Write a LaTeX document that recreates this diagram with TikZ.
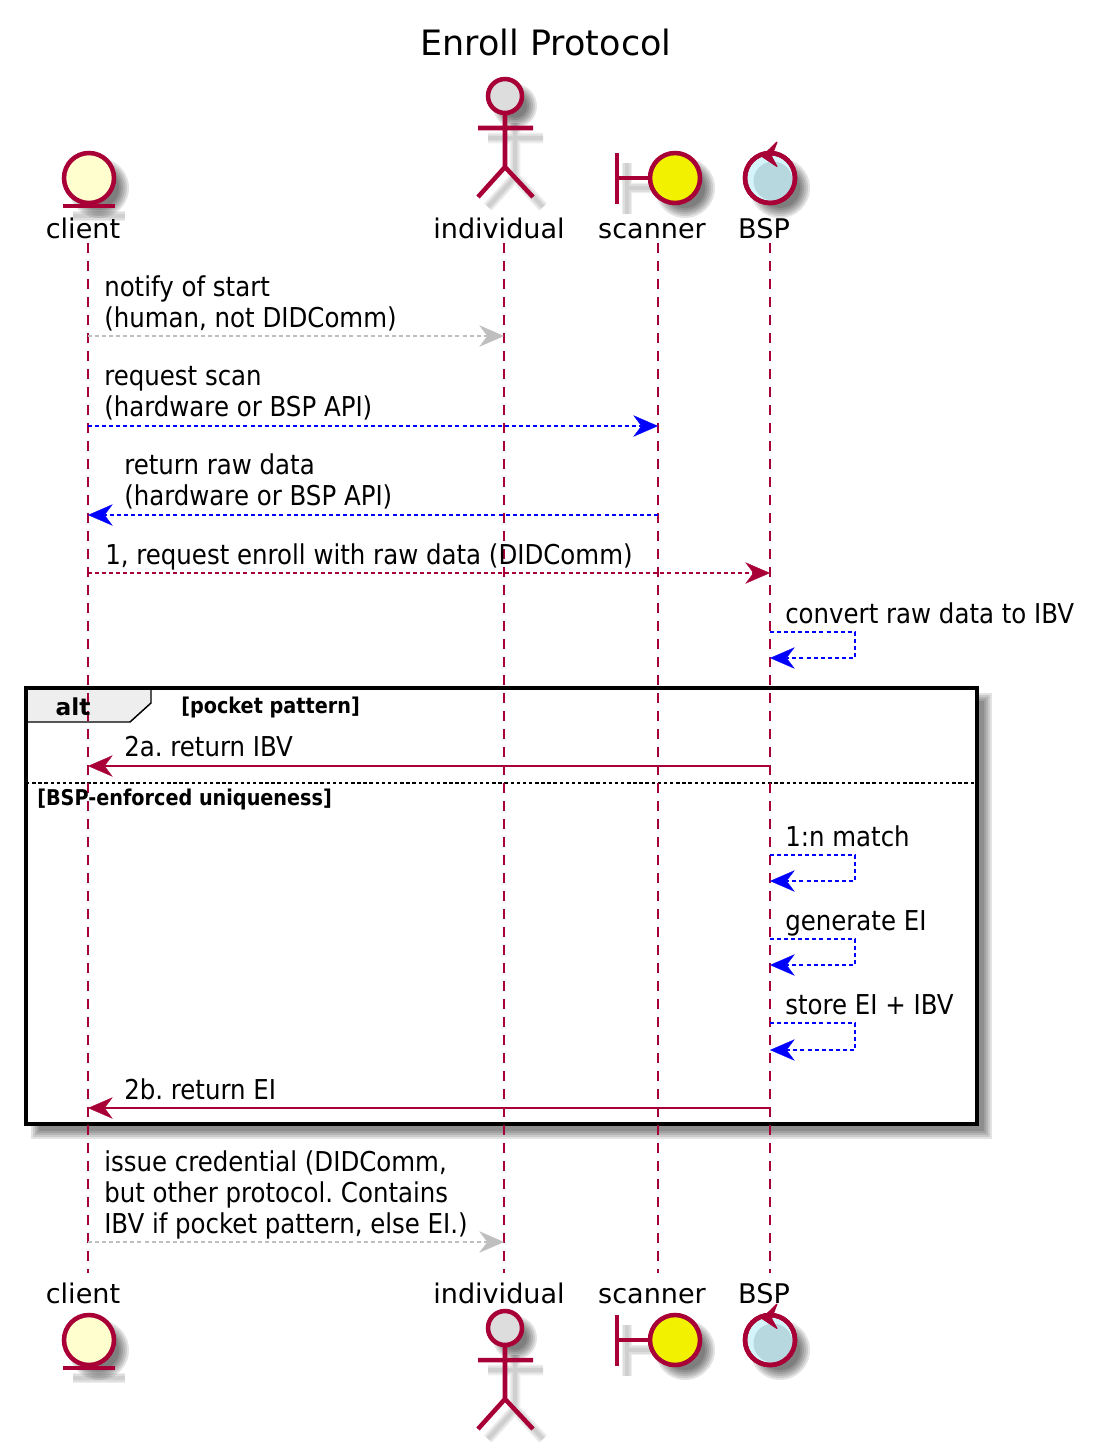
\documentclass[tikz,border=0pt]{standalone}
\usepackage{fontspec}
\setmainfont{DejaVu Sans}
\newfontfamily\msgfont[FakeStretch=0.895]{DejaVu Sans}
\newfontfamily\guardfont[FakeStretch=0.885]{DejaVu Sans Bold}
\usepackage{xcolor}
\usetikzlibrary{arrows.meta}
\definecolor{lifered}{HTML}{A80036}
\definecolor{scanyellow}{HTML}{F1F100}
\definecolor{bspblue}{HTML}{B8D8E0}
\definecolor{bsplight}{HTML}{D4F4FA}
\definecolor{clientfill}{HTML}{FEFECE}
\definecolor{actorfill}{HTML}{DDDDDD}
\definecolor{tabfill}{HTML}{EEEEEE}
\definecolor{msggray}{HTML}{BFBFBF}
\newcommand{\softdisc}[2]{% blurred shadow of a disc
	\foreach \e in {5,3,1,-1,-3,-5} \fill[black,opacity=.11] (#1) circle ({#2+\e});}
\newcommand{\softline}[1]{% blurred shadow of a stick
	\foreach \w in {8,5.5,3} \draw[black,opacity=.065,line width=\w pt] #1;}
\tikzset{
	msgtext/.style		= {font=\msgfont\frenchspacing\fontsize{20.5}{22.9}\selectfont, inner sep=0pt, align=left, anchor=base west},
	partname/.style		= {font=\fontsize{20.3}{22.9}\selectfont, inner sep=0pt, anchor=base},
	guard/.style		= {font=\guardfont\frenchspacing\fontsize{16.3}{20}\selectfont, inner sep=0pt, anchor=base west},
	lifeline/.style		= {lifered, line width=1.6pt, dash pattern=on 7.5pt off 6pt},
	msgtip/.tip			= {Stealth[length=18.5pt, width=16pt, inset=6pt, line width=0.2pt]},
	msgred/.style		= {lifered, line width=1.6pt, -msgtip},
	msgblue/.style		= {blue, line width=1.6pt, dash pattern=on 3pt off 2.3pt, -msgtip},
	msggrey/.style		= {msggray, line width=1.6pt, dash pattern=on 3pt off 2.3pt, -msgtip},
	msgdash/.style		= {msgred, dash pattern=on 3pt off 2.3pt},
	sym/.style			= {draw=lifered, line width=3.4pt},
	entitysym/.pic = {
		\softdisc{10,10}{25}
		\softline{(-16,38) -- (36,38)}
		\draw[sym, fill=clientfill] (0,0) circle (25);
		\draw[sym] (-26,28) -- (26,28);
	},
	actorsym/.pic = {
		\softdisc{10,10}{17}
		\softline{(10,27) -- (10,81) (-17,42) -- (38,42) (-17,111) -- (10,81) -- (38,111)}
		\draw[sym, fill=actorfill] (0,0) circle (17);
		\draw[sym] (0,17) -- (0,71) (-27,32) -- (28,32) (-27,101) -- (0,71) -- (28,101);
	},
	boundarysym/.pic = {
		\softline{(10,-15) -- (10,36) (10,10) -- (34,10)}
		\softdisc{68,10}{25}
		\draw[sym] (0,-25) -- (0,26) (0,0) -- (34,0);
		\draw[sym, fill=scanyellow] (58,0) circle (25);
	},
	controlsym/.pic = {
		\softdisc{10,10}{25}
		\draw[sym, fill=bsplight] (0,0) circle (25);
		\fill[bspblue] (3,3) circle (19.5);
		\draw[sym] (0,0) circle (25);
		\filldraw[lifered, line width=.8pt, line join=round] (7,-36) -- (-8,-21.5) -- (7,-11.5) -- (1.5,-21.5) -- cycle;
	}
}

\begin{document}
\begin{tikzpicture}[x=0.75pt, y=-0.75pt]
	\useasboundingbox (0,0) rectangle (1094,1450);

	\node(title)	[font=\fontsize{26.2}{30}\selectfont, inner sep=0pt, anchor=base] at (546,55) {Enroll Protocol};

	% alt frame first, the lifelines run over it
	\foreach \e in {5,3,1,-1,-3} \fill[black,opacity=.11] ({36-\e},{698-\e}) rectangle ({987+\e},{1134+\e});
	\draw[black, line width=3.3pt, fill=white] (26,688) rectangle (977,1124);
	\draw[black, line width=1.1pt, fill=tabfill] (26,688) -- (151,688) -- (151,703) -- (130,722) -- (26,722) -- cycle;
	\draw[black, line width=3.3pt] (26,688) -- (977,688) (26,688) -- (26,722);
	\coordinate(sepL)	at (26,783);
	\coordinate(sepR)	at (977,783);
	\draw[black, line width=1.5pt, dash pattern=on 2.6pt off 2pt] (sepL) -- (sepR);

	% lifelines
	\coordinate(clientT)	at (88,243);
	\coordinate(clientB)	at (88,1273);
	\coordinate(indivT)		at (504,243);
	\coordinate(indivB)		at (504,1273);
	\coordinate(scanT)		at (658,243);
	\coordinate(scanB)		at (658,1273);
	\coordinate(bspT)		at (770,243);
	\coordinate(bspB)		at (770,1273);
	\draw[lifeline] (clientT) -- (clientB);
	\draw[lifeline] (indivT) -- (indivB);
	\draw[lifeline] (scanT) -- (scanB);
	\draw[lifeline] (bspT) -- (bspB);

	% participants, top and bottom
	\pic at (89,178)	{entitysym};
	\pic at (505,96)	{actorsym};
	\pic at (617,178)	{boundarysym};
	\pic at (770,178)	{controlsym};
	\pic at (89,1340)	{entitysym};
	\pic at (505,1328)	{actorsym};
	\pic at (617,1340)	{boundarysym};
	\pic at (770,1340)	{controlsym};

	\node(clientTop)	[partname] at (83,238)		{client};
	\node(indivTop)		[partname] at (499,238)		{individual};
	\node(scanTop)		[partname] at (652,238)		{scanner};
	\node(bspTop)		[partname] at (764,238)		{BSP};
	\node(clientBot)	[partname] at (83,1303)		{client};
	\node(indivBot)		[partname] at (499,1303)	{individual};
	\node(scanBot)		[partname] at (652,1303)	{scanner};
	\node(bspBot)		[partname] at (764,1303)	{BSP};

	% messages
	\coordinate(m1a) at (88,336);	\coordinate(m1b) at (504,336);
	\coordinate(m2a) at (88,426);	\coordinate(m2b) at (658,426);
	\coordinate(m3a) at (658,515);	\coordinate(m3b) at (88,515);
	\coordinate(m4a) at (88,573);	\coordinate(m4b) at (770,573);
	\coordinate(m6a) at (770,766);	\coordinate(m6b) at (88,766);
	\coordinate(m10a) at (770,1108);	\coordinate(m10b) at (88,1108);
	\coordinate(m11a) at (88,1242);	\coordinate(m11b) at (504,1242);
	\coordinate(s5a) at (770,632);	\coordinate(s5b) at (770,658);
	\coordinate(s7a) at (770,855);	\coordinate(s7b) at (770,881);
	\coordinate(s8a) at (770,939);	\coordinate(s8b) at (770,965);
	\coordinate(s9a) at (770,1023);	\coordinate(s9b) at (770,1050);

	\draw[msggrey] (m1a) -- (m1b);
	\draw[msgblue] (m2a) -- (m2b);
	\draw[msgblue] (m3a) -- (m3b);
	\draw[msgdash] (m4a) -- (m4b);
	\draw[msgblue] (s5a) -- ++(85,0) |- (s5b);
	\draw[msgred] (m6a) -- (m6b);
	\draw[msgblue] (s7a) -- ++(85,0) |- (s7b);
	\draw[msgblue] (s8a) -- ++(85,0) |- (s8b);
	\draw[msgblue] (s9a) -- ++(85,0) |- (s9b);
	\draw[msgred] (m10a) -- (m10b);
	\draw[msggrey] (m11a) -- (m11b);

	\node(notify)	[msgtext] at (104,327)	{notify of start\\(human, not DIDComm)};
	\node(request)	[msgtext] at (104,416)	{request scan\\(hardware or BSP API)};
	\node(rawdata)	[msgtext] at (124,505)	{return raw data\\(hardware or BSP API)};
	\node(enroll)	[msgtext] at (105,564)	{1, request enroll with raw data (DIDComm)};
	\node(convert)	[msgtext] at (785,623)	{convert raw data to IBV};
	\node(retibv)	[msgtext] at (124,756)	{2a. return IBV};
	\node(match)	[msgtext] at (785,846)	{1:n match};
	\node(genei)	[msgtext] at (785,930)	{generate EI};
	\node(store)	[msgtext] at (785,1014)	{store EI + IBV};
	\node(retei)	[msgtext] at (124,1099)	{2b. return EI};
	\node(issue)	[msgtext] at (104,1233)	{issue credential (DIDComm,\\but other protocol. Contains\\IBV if pocket pattern, else EI.)};

	\node(alt)		[font=\bfseries\fontsize{17.5}{20}\selectfont, inner sep=0pt, anchor=base] at (73,715)	{alt};
	\node(pocket)	[guard] at (181,713)	{[pocket pattern]};
	\node(unique)	[guard] at (37,805)		{[BSP-enforced uniqueness]};
\end{tikzpicture}
\end{document}
